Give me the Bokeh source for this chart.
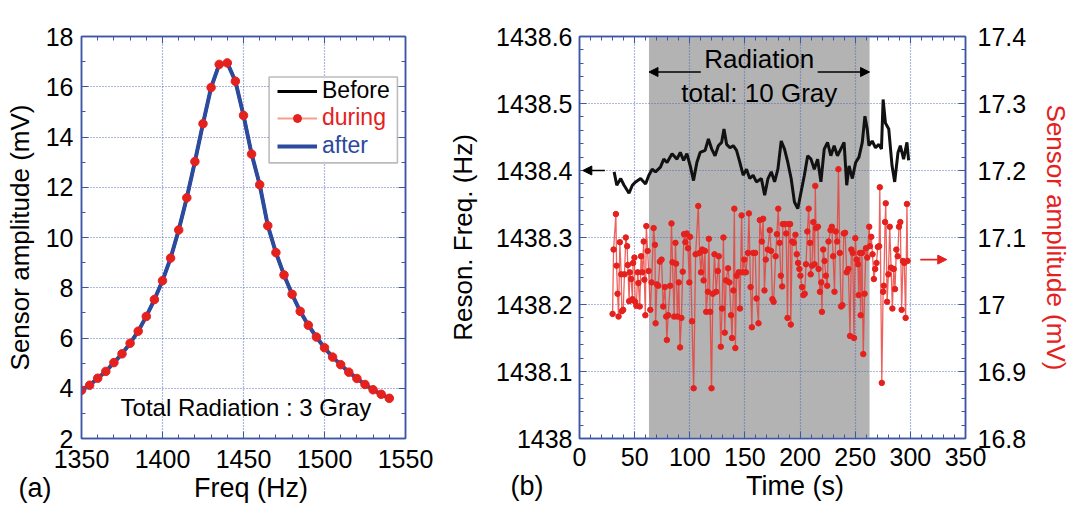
from bokeh.plotting import figure
from bokeh.layouts import row
from bokeh.models import (Range1d, LinearAxis, FixedTicker, CustomJSTickFormatter, Label,
                          BoxAnnotation, Arrow, NormalHead, Legend, LegendItem, Title)
from bokeh.embed import file_html
from bokeh.resources import INLINE

# ---------------- data: panel (a) ----------------
freq_a = [1350, 1355, 1360, 1365, 1370, 1375, 1380, 1385, 1390, 1395, 1400, 1405, 1410,
          1415, 1420, 1425, 1430, 1435, 1440, 1445, 1450, 1455, 1460, 1465, 1470, 1475,
          1480, 1485, 1490, 1495, 1500, 1505, 1510, 1515, 1520, 1525, 1530, 1535, 1540]
amp_before = [3.92, 4.12, 4.40, 4.67, 5.02, 5.37, 5.79, 6.27, 6.86, 7.53, 8.28, 9.18, 10.30,
              11.58, 13.02, 14.53, 15.97, 16.89, 16.95, 16.22, 14.86, 13.32, 12.10, 10.47, 9.40,
              8.51, 7.74, 7.06, 6.51, 6.04, 5.61, 5.24, 4.94, 4.64, 4.39, 4.15, 3.94, 3.76, 3.60]
amp_during = [3.92, 4.12, 4.40, 4.67, 5.02, 5.37, 5.79, 6.27, 6.86, 7.53, 8.28, 9.18, 10.30,
              11.58, 13.02, 14.53, 15.97, 16.89, 16.95, 16.22, 14.86, 13.32, 12.10, 10.47, 9.40,
              8.51, 7.74, 7.06, 6.51, 6.04, 5.61, 5.24, 4.94, 4.64, 4.39, 4.15, 3.94, 3.76, 3.60]
amp_after = [3.92, 4.12, 4.40, 4.67, 5.02, 5.37, 5.79, 6.27, 6.86, 7.53, 8.28, 9.18, 10.30,
             11.58, 13.02, 14.53, 15.97, 16.89, 16.95, 16.22, 14.86, 13.32, 12.10, 10.47, 9.40,
             8.51, 7.74, 7.06, 6.51, 6.04, 5.61, 5.24, 4.94, 4.64, 4.39, 4.15, 3.94, 3.76, 3.60]
xticks_a = [1350, 1400, 1450, 1500, 1550]
yticks_a = [2, 4, 6, 8, 10, 12, 14, 16, 18]

# ---------------- data: panel (b) ----------------
time_freq = [31.4, 33.8, 37.4, 40.4, 44.9, 47.9, 50.9, 55.4, 59.9, 62.9, 65.9, 68.9, 73.4, 76.4,
             79.4, 83.9, 88.4, 91.4, 94.4, 97.4, 100.4, 103.4, 106.4, 109.4, 113.9, 116.9, 119.9,
             122.9, 125.9, 128.9, 131.0, 133.4, 136.4, 139.4, 142.4, 145.4, 148.4, 151.4, 154.4,
             157.4, 160.4, 164.9, 167.9, 170.9, 173.9, 176.9, 179.9, 182.9, 185.9, 188.9, 191.9,
             194.9, 197.9, 200.9, 203.9, 206.9, 209.9, 212.9, 215.9, 218.9, 221.9, 224.9, 227.9,
             230.9, 233.9, 236.9, 239.9, 242.3, 244.4, 247.4, 250.4, 253.4, 256.4, 258.8, 260.9,
             262.4, 265.4, 268.4, 271.4, 273.8, 275.3, 277.4, 280.4, 283.4, 285.8, 288.8, 290.9,
             293.9, 296.9, 298.4]
reson_freq = [1438.398, 1438.378, 1438.388, 1438.378, 1438.366, 1438.378, 1438.383, 1438.388,
              1438.380, 1438.393, 1438.402, 1438.398, 1438.405, 1438.417, 1438.412, 1438.425,
              1438.417, 1438.427, 1438.415, 1438.425, 1438.407, 1438.385, 1438.412, 1438.427,
              1438.430, 1438.447, 1438.432, 1438.422, 1438.437, 1438.442, 1438.462, 1438.439,
              1438.434, 1438.437, 1438.430, 1438.412, 1438.393, 1438.402, 1438.388, 1438.393,
              1438.383, 1438.388, 1438.363, 1438.388, 1438.398, 1438.383, 1438.402, 1438.444,
              1438.432, 1438.412, 1438.388, 1438.353, 1438.343, 1438.368, 1438.393, 1438.422,
              1438.417, 1438.402, 1438.417, 1438.383, 1438.432, 1438.442, 1438.422, 1438.437,
              1438.422, 1438.432, 1438.442, 1438.378, 1438.407, 1438.388, 1438.412, 1438.420,
              1438.442, 1438.481, 1438.462, 1438.437, 1438.444, 1438.434, 1438.439, 1438.432,
              1438.506, 1438.471, 1438.462, 1438.407, 1438.383, 1438.427, 1438.437, 1438.417,
              1438.442, 1438.415]

time_amp = [30.0, 30.9, 33.0, 33.6, 34.5, 35.4, 36.6, 37.8, 38.4, 39.6, 40.8, 42.0, 43.2, 43.8,
            45.0, 45.6, 46.8, 48.0, 48.6, 49.8, 50.4, 51.6, 52.8, 53.4, 54.6, 55.8, 57.0, 58.2,
            58.8, 59.7, 60.6, 61.8, 62.7, 64.2, 65.4, 67.2, 68.4, 69.0, 70.2, 71.4, 72.9, 74.4,
            75.9, 77.4, 78.6, 79.2, 80.4, 82.2, 83.4, 84.3, 85.8, 87.0, 87.6, 88.8, 90.0, 91.2,
            92.4, 93.6, 94.8, 96.0, 97.2, 98.4, 99.6, 100.2, 102.0,
            103.5, 105.3, 107.7, 108.9, 110.1, 111.3, 112.5, 113.7, 114.9, 116.4, 117.3, 118.5,
            119.7, 120.9, 122.4, 123.9, 125.4, 126.3, 128.1, 129.3, 130.5, 131.7, 132.9, 134.7,
            135.9, 137.4, 138.3, 139.5, 140.4, 141.3, 142.5, 144.3, 145.5, 147.0, 147.9, 149.4,
            150.9, 152.7, 153.6, 155.1, 156.3, 157.5, 159.3, 160.5, 162.3, 163.5, 165.3, 166.5,
            167.7, 168.9, 170.7, 172.5, 173.7, 174.9,
            176.0, 177.8, 179.0, 180.2, 181.4, 182.6, 183.8, 184.4, 186.2, 187.4, 188.6, 189.8,
            191.0, 191.6, 192.8, 194.3, 195.8, 197.0, 198.2, 199.4, 200.3, 201.8, 203.0, 204.2,
            205.4, 206.6, 207.8, 209.0, 209.6, 210.8, 212.0, 213.2, 213.8, 214.4, 216.2, 216.8,
            218.0, 219.2, 219.8, 221.0, 222.2, 223.4, 224.6, 225.8, 227.6, 228.8, 230.0, 231.2,
            232.4, 233.6, 234.8, 236.0, 237.2, 238.4, 239.6,
            240.8, 242.3, 243.8, 245.3, 246.5, 247.7, 248.9, 250.1, 251.3, 252.5, 253.1, 254.3,
            254.9, 256.1, 257.3, 258.5, 259.7, 260.9, 262.7, 263.3, 264.5, 265.7, 266.9, 268.1,
            269.3, 270.5, 271.7, 272.3, 274.1, 275.3, 275.9, 277.1, 277.7, 278.9, 280.1, 281.3,
            282.5, 283.7, 284.9, 286.1, 287.3, 288.5, 289.7, 290.9, 292.1, 293.3, 294.5, 295.7,
            296.9, 297.5]
sensor_amp = [16.986, 17.082, 17.135, 17.058, 17.016, 16.982, 17.093, 17.045, 16.990, 16.992,
              17.045, 17.100, 17.087, 17.059, 17.005, 17.048, 17.038, 17.008, 17.062, 17.070,
              17.004, 16.998, 17.048, 17.032, 16.997, 17.072, 17.048, 17.094, 17.037, 16.984,
              17.117, 17.080, 17.050, 16.992, 17.033, 17.114, 17.089, 16.972, 17.030, 17.028,
              17.064, 17.067, 16.997, 17.026, 16.982, 16.947, 16.984, 17.028, 17.121, 17.063,
              16.982, 17.092, 17.061, 16.982, 17.033, 16.936, 16.980, 17.049, 17.105, 17.093,
              17.106, 17.084, 17.033, 17.101, 16.975,
              16.875, 17.075, 17.147, 17.077, 17.048, 17.082, 17.036, 17.080, 16.989, 17.019,
              17.098, 16.989, 16.875, 17.016, 17.075, 17.019, 17.050, 17.072, 16.937, 16.994,
              17.100, 16.958, 17.036, 17.054, 17.033, 16.984, 16.950, 17.021, 17.143, 16.935,
              17.043, 17.048, 16.994, 17.133, 17.048, 17.067, 17.048, 17.077, 17.136, 17.026,
              16.966, 17.077, 17.077, 17.009, 16.972, 17.126, 17.094, 17.128, 17.021, 17.067,
              17.082, 17.111, 17.080, 17.008,
              17.004, 17.072, 17.105, 17.143, 17.092, 17.043, 17.027, 17.120, 17.120, 17.106,
              16.980, 17.120, 17.120, 16.970, 17.094, 17.092, 17.104, 17.075, 17.062, 17.053,
              17.043, 17.026, 17.014, 17.016, 17.060, 17.109, 17.143, 17.092, 17.045, 17.058,
              17.123, 17.060, 17.177, 17.114, 17.116, 17.053, 17.019, 17.033, 16.989, 17.082,
              17.065, 17.043, 17.028, 17.094, 17.111, 17.116, 17.072, 17.019, 17.109, 17.094,
              17.202, 17.077, 16.997, 16.999, 17.106,
              17.107, 17.048, 17.053, 16.953, 17.082, 17.077, 16.950, 17.099, 17.067, 17.060,
              17.014, 17.077, 16.984, 17.077, 16.926, 17.016, 17.084, 17.070, 17.116, 17.087,
              17.101, 17.075, 17.038, 17.053, 17.062, 17.086, 17.087, 17.175, 16.883, 17.019,
              17.028, 17.123, 17.151, 17.004, 17.045, 17.116, 17.055, 16.994, 17.053, 17.023,
              17.082, 17.072, 17.116, 17.123, 16.992, 17.065, 17.062, 16.980, 17.150, 17.065]
radiation_start = 63
radiation_end = 263
xticks_b = [0, 50, 100, 150, 200, 250, 300, 350]
yticks_b = [1438.0, 1438.1, 1438.2, 1438.3, 1438.4, 1438.5, 1438.6]
yticks_b2 = [16.8, 16.9, 17.0, 17.1, 17.2, 17.3, 17.4]

# ---------------- styling ----------------
FONT = "Liberation Sans"
FRAME = "#3c56a8"
GRID = "#4862b2"
RED = "#e5211d"
BLUE = "#2c4a9e"
TICK_SIZE = "25px"
LABEL_SIZE = "26px"
H = 513
NB = "\u00a0"

fmt_code = ("const v = Math.round(tick*10)/10;"
            "return (Math.abs(v - Math.round(v)) < 1e-6) ? String(Math.round(v)) : v.toFixed(1);")


def style_axis(ax, show=True):
    ax.major_tick_in = 7
    ax.major_tick_out = 0
    ax.minor_tick_in = 4
    ax.minor_tick_out = 0
    ax.major_tick_line_color = FRAME
    ax.minor_tick_line_color = FRAME
    ax.axis_line_color = FRAME
    ax.axis_line_width = 1.5
    ax.major_label_text_font = FONT
    ax.major_label_text_color = "black"
    ax.axis_label_text_font = FONT
    ax.axis_label_text_font_style = "normal"
    ax.axis_label_text_font_size = LABEL_SIZE
    ax.axis_label_text_color = "black"
    if show:
        ax.formatter = CustomJSTickFormatter(code=fmt_code)
        ax.major_label_text_font_size = TICK_SIZE
    else:
        ax.formatter = CustomJSTickFormatter(code="return '';")
        ax.major_label_text_font_size = "0px"
        ax.major_label_standoff = 0


def style_fig(p):
    p.outline_line_color = FRAME
    p.outline_line_width = 1.5
    p.background_fill_color = "white"
    p.border_fill_color = "white"
    for g in (p.xgrid[0], p.ygrid[0]):
        g.grid_line_color = GRID
        g.grid_line_dash = "1 2"
        g.grid_line_width = 1.2
        g.grid_line_alpha = 0.9


def bottom_title(p, text, offset):
    p.add_layout(Title(text=text, align="left", offset=offset, standoff=0,
                       text_font=FONT, text_font_size="27px", text_font_style="normal",
                       text_color="black"), "below")


# ================= panel (a) =================
tx_a = FixedTicker(ticks=xticks_a, minor_ticks=list(range(1350, 1551, 10)))
ty_a = FixedTicker(ticks=yticks_a, minor_ticks=list(range(2, 19, 1)))

pa = figure(width=440, height=H, x_range=Range1d(1350, 1550), y_range=Range1d(2, 18),
            output_backend="svg", toolbar_location=None,
            min_border_left=81, min_border_right=35, min_border_top=31,
            min_border_bottom=H - 438)
style_fig(pa)
pa.xaxis[0].ticker = tx_a
pa.yaxis[0].ticker = ty_a
pa.xgrid[0].ticker = tx_a
pa.ygrid[0].ticker = ty_a
pa.yaxis[0].axis_label = "Sensor amplitude (mV)"
style_axis(pa.xaxis[0])
style_axis(pa.yaxis[0])
pa.yaxis[0].major_label_standoff = 8
pa.yaxis[0].axis_label_standoff = 8
pa.xaxis[0].major_label_standoff = 11
ax_top = LinearAxis(ticker=tx_a)
ax_right = LinearAxis(ticker=ty_a)
style_axis(ax_top, show=False)
style_axis(ax_right, show=False)
pa.add_layout(ax_top, "above")
pa.add_layout(ax_right, "right")
bottom_title(pa, "(a)" + NB * 19 + "Freq (Hz)", -63)

r_before = pa.line(freq_a, amp_before, line_color="black", line_width=3)
r_dur_line = pa.line(freq_a, amp_during, line_color="#f4a08c", line_width=2)
r_after = pa.line(freq_a, amp_after, line_color=BLUE, line_width=4)
r_dur_dots = pa.scatter(freq_a, amp_during, size=8.5, fill_color=RED, line_color=RED)

legend_box = BoxAnnotation(left=1465.8, right=1545.0, bottom=12.97, top=16.39,
                           fill_color="white", fill_alpha=1.0,
                           line_color="#222222", line_width=1.6)
pa.add_layout(legend_box)


def mk_leg(renderers, label, color, vy):
    lg = Legend(items=[LegendItem(label=label, renderers=renderers)], location=(196, vy),
                padding=0, margin=0, spacing=0, border_line_color=None,
                background_fill_alpha=0, glyph_width=40, glyph_height=20,
                label_height=20, label_standoff=5, label_text_font=FONT,
                label_text_font_size="23px", label_text_color=color)
    pa.add_layout(lg)


mk_leg([r_before], "Before", "black", 334)
mk_leg([r_dur_line, r_dur_dots], "during", RED, 307)
mk_leg([r_after], "after", BLUE, 279)

pa.add_layout(Label(x=1451.5, y=3.23, text="Total Radiation : 3 Gray", text_align="center",
                    text_baseline="middle", text_font=FONT, text_font_size="24px",
                    text_color="black"))

# ================= panel (b) =================
tx_b = FixedTicker(ticks=xticks_b, minor_ticks=list(range(0, 351, 10)))
ty_b = FixedTicker(ticks=yticks_b, minor_ticks=[1438 + 0.02 * i for i in range(31)])
ty_b2 = FixedTicker(ticks=yticks_b2, minor_ticks=[16.8 + 0.02 * i for i in range(31)])

pb = figure(width=634, height=H, x_range=Range1d(0, 350), y_range=Range1d(1438.0, 1438.6),
            output_backend="svg", toolbar_location=None,
            min_border_left=139, min_border_right=106, min_border_top=36,
            min_border_bottom=H - 443)
pb.extra_y_ranges = {"amp": Range1d(16.8, 17.4)}
style_fig(pb)
pb.xaxis[0].ticker = tx_b
pb.yaxis[0].ticker = ty_b
pb.xgrid[0].ticker = tx_b
pb.ygrid[0].ticker = ty_b
pb.yaxis[0].axis_label = "Reson. Freq. (Hz)"
style_axis(pb.xaxis[0])
style_axis(pb.yaxis[0])
pb.yaxis[0].major_label_standoff = 7
pb.yaxis[0].axis_label_standoff = 15
pb.xaxis[0].major_label_standoff = 9

ax_top_b = LinearAxis(ticker=tx_b)
style_axis(ax_top_b, show=False)
pb.add_layout(ax_top_b, "above")
ax_amp = LinearAxis(y_range_name="amp", ticker=ty_b2, axis_label="Sensor amplitude (mV)")
style_axis(ax_amp)
ax_amp.axis_label_text_color = RED
ax_amp.major_label_standoff = 12
ax_amp.axis_label_standoff = 12
pb.add_layout(ax_amp, "right")
bottom_title(pb, "(b)" + NB * 27 + "Time (s)", -69)

shade = BoxAnnotation(left=radiation_start, right=radiation_end, fill_color="#b3b3b3",
                      fill_alpha=1.0, line_color=None, level="image")
pb.add_layout(shade)

pb.line(time_amp, sensor_amp, y_range_name="amp", line_color="#ea3b35", line_alpha=0.8,
        line_width=1.3)
pb.scatter(time_amp, sensor_amp, y_range_name="amp", size=5.5, fill_color=RED,
           line_color=RED)
pb.line(time_freq, reson_freq, line_color="#111111", line_width=3)

pb.add_layout(Label(x=163, y=1438.566, text="Radiation", text_align="center",
                    text_baseline="middle", text_font=FONT, text_font_size="26px",
                    text_color="black"))
pb.add_layout(Label(x=163, y=1438.516, text="total: 10 Gray", text_align="center",
                    text_baseline="middle", text_font=FONT, text_font_size="26px",
                    text_color="black"))
pb.add_layout(Arrow(x_start=110, y_start=1438.547, x_end=radiation_start, y_end=1438.547,
                    line_color="black", line_width=1.5,
                    end=NormalHead(size=9, fill_color="black", line_color="black")))
pb.add_layout(Arrow(x_start=216, y_start=1438.547, x_end=radiation_end, y_end=1438.547,
                    line_color="black", line_width=1.5,
                    end=NormalHead(size=9, fill_color="black", line_color="black")))
pb.add_layout(Arrow(x_start=23, y_start=1438.4, x_end=3, y_end=1438.4,
                    line_color="black", line_width=1.5,
                    end=NormalHead(size=9, fill_color="black", line_color="black")))
pb.add_layout(Arrow(x_start=309, y_start=17.067, x_end=333, y_end=17.067, y_range_name="amp",
                    line_color=RED, line_width=1.8,
                    end=NormalHead(size=9, fill_color=RED, line_color=RED)))

layout = row(pa, pb)
open("out.html", "w").write(file_html(layout, INLINE))
